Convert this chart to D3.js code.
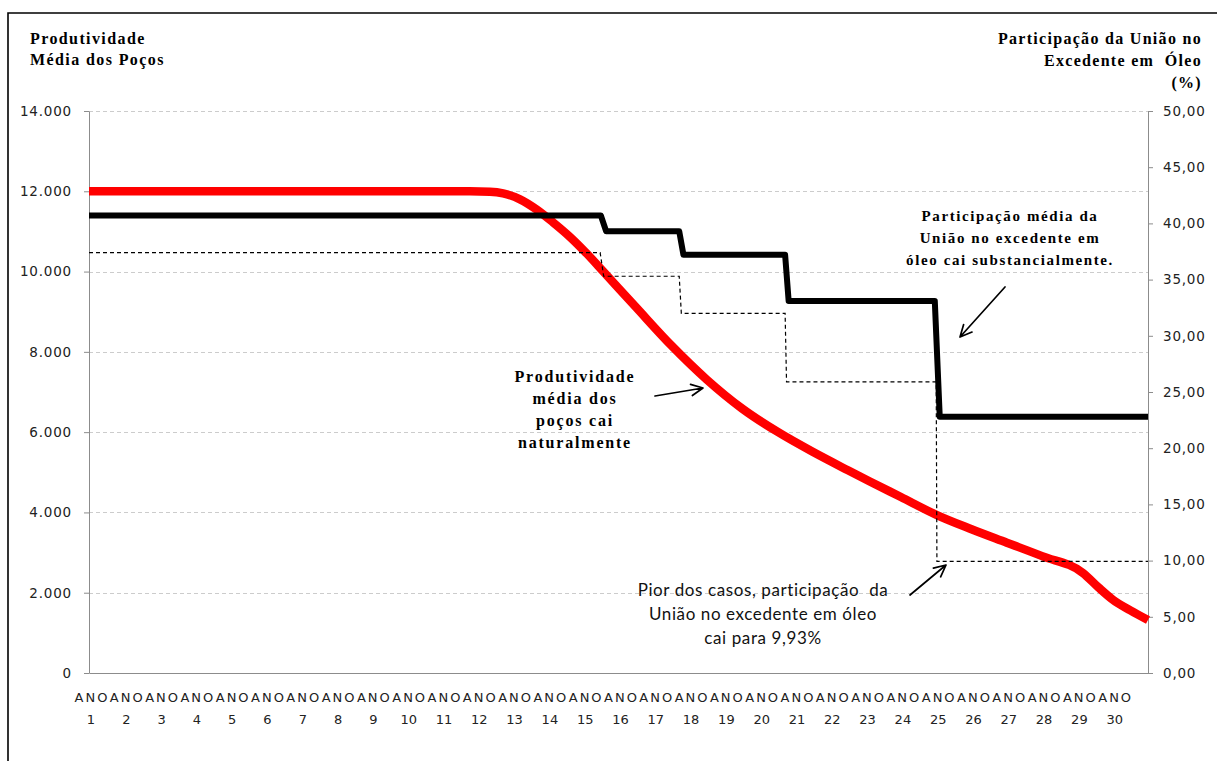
<!DOCTYPE html>
<html>
<head>
<meta charset="utf-8">
<script src="https://cdn.jsdelivr.net/npm/d3@7"></script>
<style>
  body { margin: 0; background: #fff; }
</style>
</head>
<body>
<script>
// categories (ANO 1 .. ANO 30)
const anos = [1, 2, 3, 4, 5, 6, 7, 8, 9, 10, 11, 12, 13, 14, 15, 16, 17, 18, 19, 20,
  21, 22, 23, 24, 25, 26, 27, 28, 29, 30];

// produtividade média dos poços (eixo esquerdo), tempo em anos
const prodTempo = [0, 10.79, 11.36, 11.73, 12.21, 12.69, 13.14, 13.63, 14.11, 14.56, 15.5,
  16.5, 17.5, 18.5, 19.5, 20.5, 21.5, 22.12, 23.0, 24.02, 25, 26, 27, 28.16, 28.6, 29.0, 29.5, 30];
const prodValor = [12000, 12000, 11990, 11950, 11800, 11540, 11230, 10860, 10440, 10010, 9107,
  8157, 7310, 6590, 6010, 5510, 5050, 4771, 4384, 3935, 3582, 3247, 2912, 2490, 2130, 1830, 1560, 1320];

// participação média da União (eixo direito, %)
const partTempo = [0, 14.5, 14.65, 16.72, 16.84, 19.72, 19.82, 23.96, 24.1, 30];
const partValor = [40.7, 40.7, 39.3, 39.3, 37.2, 37.2, 33.1, 33.1, 22.8, 22.8];

// pior dos casos (eixo direito, %)
const piorTempo = [0, 14.48, 14.58, 16.72, 16.78, 19.72, 19.76, 24.0, 24.02, 30];
const piorValor = [37.4, 37.4, 35.3, 35.3, 32.0, 32.0, 25.9, 25.9, 9.93, 9.93];

// tick values
const ticksEsq = [0, 2000, 4000, 6000, 8000, 10000, 12000, 14000];
const ticksDir = [0, 5, 10, 15, 20, 25, 30, 35, 40, 45, 50];

const width = 1221, height = 761;
const marginLeft = 89, marginRight = 73, marginTop = 111, marginBottom = 88;

const ptBR = d3.formatLocale({decimal: ",", thousands: ".", grouping: [3], currency: ["R$", ""]});
const fmtEsq = ptBR.format(",.0f");
const fmtDir = ptBR.format(".2f");

const x = d3.scaleLinear([0, 30], [marginLeft, width - marginRight]);
const yL = d3.scaleLinear([0, 14000], [height - marginBottom, marginTop]);
const yR = d3.scaleLinear([0, 50], [height - marginBottom, marginTop]);

const svg = d3.select("body").append("svg")
  .attr("width", width)
  .attr("height", height)
  .attr("viewBox", [0, 0, width, height]);

svg.append("rect").attr("width", width).attr("height", height).attr("fill", "#fff");

// chart border (top + left visible)
svg.append("path")
  .attr("d", `M8,${height}V13H1217`)
  .attr("fill", "none")
  .attr("stroke", "#000")
  .attr("stroke-width", 1.6);

// gridlines
svg.append("g")
  .selectAll("line")
  .data(ticksEsq.filter(d => d > 0))
  .join("line")
  .attr("x1", x(0))
  .attr("x2", x(30))
  .attr("y1", d => Math.round(yL(d)) + 0.5)
  .attr("y2", d => Math.round(yL(d)) + 0.5)
  .attr("stroke", "#cccccc")
  .attr("stroke-dasharray", "4,3");

const tickFont = "DejaVu Sans, Verdana, sans-serif";

// left axis
svg.append("g")
  .attr("transform", `translate(${marginLeft},0)`)
  .call(d3.axisLeft(yL).tickValues(ticksEsq).tickFormat(fmtEsq).tickSize(5).tickSizeOuter(0).tickPadding(12))
  .call(g => g.select(".domain").attr("stroke", "#8c8c8c"))
  .call(g => g.selectAll(".tick line").attr("stroke", "#8c8c8c"))
  .call(g => g.selectAll(".tick text")
    .attr("font-family", tickFont).attr("font-size", 13.5)
    .attr("letter-spacing", "0.8px").attr("fill", "#222"));

// right axis
svg.append("g")
  .attr("transform", `translate(${width - marginRight},0)`)
  .call(d3.axisRight(yR).tickValues(ticksDir).tickFormat(fmtDir).tickSize(5).tickSizeOuter(0).tickPadding(10))
  .call(g => g.select(".domain").attr("stroke", "#8c8c8c"))
  .call(g => g.selectAll(".tick line").attr("stroke", "#8c8c8c"))
  .call(g => g.selectAll(".tick text")
    .attr("font-family", tickFont).attr("font-size", 13.5)
    .attr("letter-spacing", "0.8px").attr("fill", "#222"));

// bottom axis (labels sit at the first month of each year)
svg.append("g")
  .attr("transform", `translate(0,${height - marginBottom})`)
  .call(d3.axisBottom(x).tickValues(anos.map(a => a - 1 + 1 / 24)).tickSize(0).tickSizeOuter(0).tickFormat(""))
  .call(g => g.select(".domain").attr("stroke", "#8c8c8c"))
  .call(g => g.selectAll(".tick text").remove())
  .call(g => g.selectAll(".tick")
    .data(anos)
    .append("text")
    .attr("font-family", tickFont)
    .attr("font-size", 13)
    .attr("fill", "#222")
    .attr("text-anchor", "middle")
    .call(t => t.append("tspan").attr("x", 1).attr("y", 29).attr("letter-spacing", "2px").text("ANO"))
    .call(t => t.append("tspan").attr("x", 0).attr("y", 51).text(d => d)));

// series
const lineProd = d3.line()
  .x((d, i) => x(prodTempo[i]))
  .y((d, i) => yL(prodValor[i]))
  .curve(d3.curveMonotoneX);

svg.append("path")
  .datum(prodValor)
  .attr("d", lineProd)
  .attr("fill", "none")
  .attr("stroke", "#ff0000")
  .attr("stroke-width", 8.5)
  .attr("stroke-linejoin", "round");

const linePior = d3.line()
  .x((d, i) => x(piorTempo[i]))
  .y((d, i) => yR(piorValor[i]));

svg.append("path")
  .datum(piorValor)
  .attr("d", linePior)
  .attr("fill", "none")
  .attr("stroke", "#000")
  .attr("stroke-width", 1.2)
  .attr("stroke-dasharray", "4,3");

const linePart = d3.line()
  .x((d, i) => x(partTempo[i]))
  .y((d, i) => yR(partValor[i]));

svg.append("path")
  .datum(partValor)
  .attr("d", linePart)
  .attr("fill", "none")
  .attr("stroke", "#000")
  .attr("stroke-width", 6)
  .attr("stroke-linejoin", "round");

// titles
const serif = "Liberation Serif, Times New Roman, serif";

function textBlock(lines, xPos, y0, lineH, anchor, font, size, weight, spacing) {
  const t = svg.append("text")
    .attr("font-family", font)
    .attr("font-size", size)
    .attr("font-weight", weight)
    .attr("letter-spacing", spacing)
    .attr("text-anchor", anchor)
    .attr("fill", "#000");
  lines.forEach((l, i) => {
    t.append("tspan").attr("x", xPos).attr("y", y0 + i * lineH).text(l);
  });
  return t;
}

textBlock(["Produtividade", "Média dos Poços"], 30, 44, 21, "start", serif, 16, "bold", "1.4px");
textBlock(["Participação da União no", "Excedente em  Óleo", "(%)"], 1202, 44, 22, "end", serif, 16, "bold", "1.3px")
  .attr("xml:space", "preserve");

// annotations
textBlock(["Participação média da", "União no excedente em", "óleo cai substancialmente."],
  1010, 221, 22, "middle", serif, 15, "bold", "1.6px");
textBlock(["Produtividade", "média dos", "poços cai", "naturalmente"],
  575, 382, 22, "middle", serif, 16, "bold", "1.8px");
textBlock(["Pior dos casos, participação  da", "União no excedente em óleo", "cai para 9,93%"],
  763, 596, 24, "middle", "Lato, Open Sans, sans-serif", 17, "normal", "0.6px")
  .attr("xml:space", "preserve")
  .attr("fill", "#111");

// arrows
const arrows = [
  [[1005, 287], [960, 337]],
  [[655, 396], [703, 388]],
  [[910, 595], [946, 565]]
];

function arrowPath([[x1, y1], [x2, y2]]) {
  const a = Math.atan2(y2 - y1, x2 - x1);
  const h = 13, w = 0.45;
  const p1 = [x2 - h * Math.cos(a - w), y2 - h * Math.sin(a - w)];
  const p2 = [x2 - h * Math.cos(a + w), y2 - h * Math.sin(a + w)];
  return `M${x1},${y1}L${x2},${y2}M${p1}L${x2},${y2}L${p2}`;
}

svg.append("g")
  .selectAll("path")
  .data(arrows)
  .join("path")
  .attr("d", arrowPath)
  .attr("fill", "none")
  .attr("stroke", "#000")
  .attr("stroke-width", 1.7)
  .attr("stroke-linecap", "round")
  .attr("stroke-linejoin", "round");
</script>
</body>
</html>
